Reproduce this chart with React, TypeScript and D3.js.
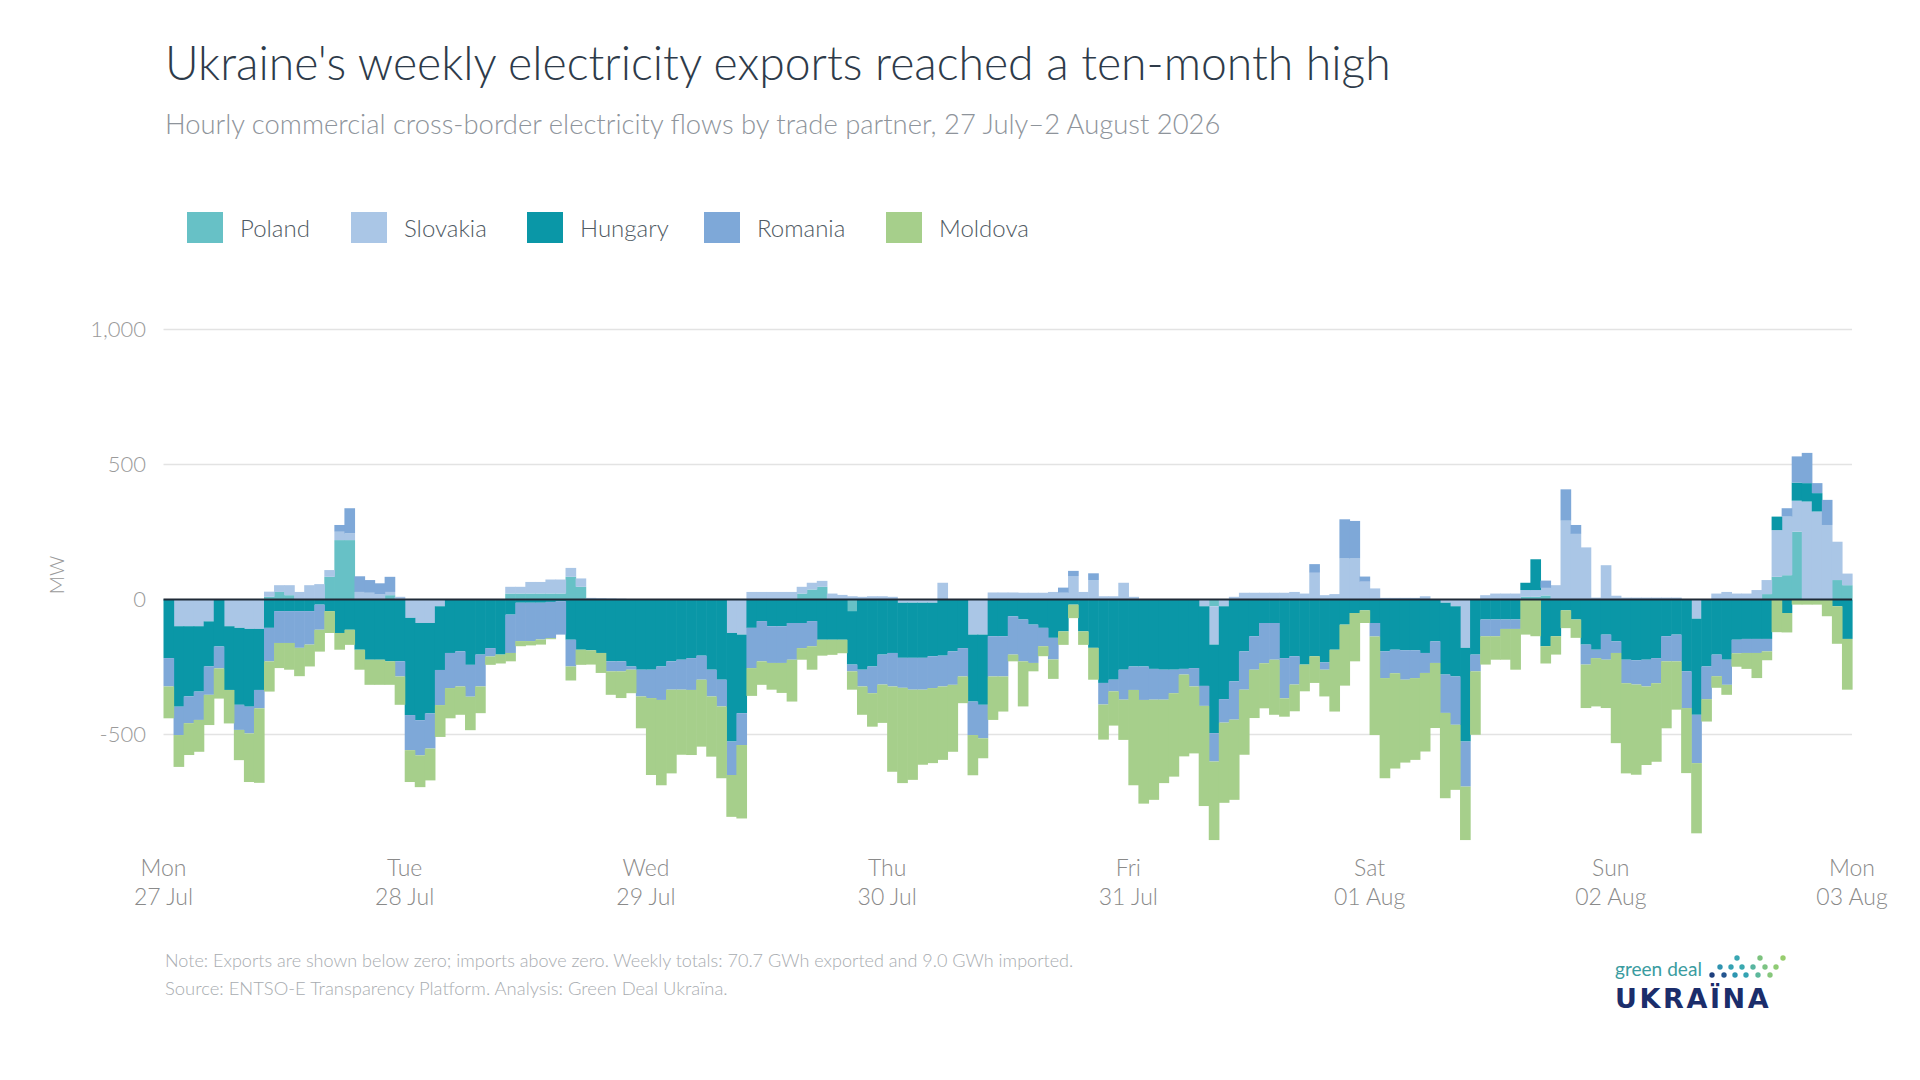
import React, { useRef, useLayoutEffect } from "react";
import * as d3 from "d3";

// ---------- DATA (MW; imports > 0, exports < 0), hourly 27 Jul 00:00 – 2 Aug 23:00 ----------
const seriesNames = ["Poland", "Slovakia", "Hungary", "Romania", "Moldova"];
const seriesColors = ["#67c1c6", "#aac6e6", "#0a97a7", "#7ea8d8", "#a6cf8b"];

const poland = [
  0, 0, 0, 0, 0, 0, 0, 0, 0, 0, 10, 28,
  16, 0, 0, 0, 84, 220, 220, 0, 0, 0, 16, 0,
  0, 0, 0, 0, 0, 0, 0, 0, 0, 0, 22, 22,
  22, 22, 22, 22, 84, 47, 0, 0, 0, 0, 0, 0,
  0, 0, 0, 0, 0, 0, 0, 0, 0, 0, 0, 0,
  0, 0, 0, 22, 37, 47, 0, 0, -43, 0, 0, 0,
  0, 0, 0, 0, 0, 0, 0, 0, 0, 0, 0, 0,
  0, 0, 0, 0, 0, 0, 0, 0, 0, 0, 0, 0,
  0, 0, 0, 0, 0, 0, 0, 0, -25, 0, 0, 0,
  0, 0, 0, 0, 0, 0, 0, 0, 0, 0, 0, 0,
  0, 0, 0, 0, 0, 0, 0, 0, 0, 0, 0, 0,
  0, 0, 0, 10, 10, 15, 0, 0, 0, 0, 0, 0,
  0, 0, 0, 0, 0, 0, 0, 0, 0, 0, 0, 0,
  0, 0, 0, 20, 84, 90, 251, 0, 0, 0, 72, 53,
];

const slovakia = [
  0, -99, -99, -99, -81, 0, -99, -105, -109, -109, 19, 25,
  37, 28, 53, 57, 25, 31, 25, 28, 25, 20, 12, 10,
  -68, -87, -87, -25, 0, 0, 0, 0, 0, 0, 25, 25,
  43, 43, 52, 52, 33, 31, 6, 5, 4, 3, 2, 0,
  0, 0, 0, 0, 0, 0, 0, 0, -124, -130, 28, 28,
  28, 28, 28, 25, 25, 22, 22, 17, 12, 10, 12, 12,
  10, -12, -12, -12, -12, 62, 0, 0, -130, -130, 26, 26,
  26, 25, 25, 25, 28, 25, 87, 28, 72, 12, 12, 62,
  10, 0, 0, 0, 0, 0, 0, -25, -142, -25, 10, 25,
  25, 25, 25, 25, 28, 22, 99, 16, 20, 152, 152, 66,
  41, 6, 6, 6, 6, 12, 0, -12, -25, -179, 0, 16,
  22, 22, 22, 25, 25, 28, 53, 292, 243, 193, 7, 127,
  14, 7, 7, 7, 7, 7, 7, 0, -71, 0, 22, 28,
  22, 22, 35, 52, 173, 217, 115, 363, 326, 276, 142, 43,
];

const hungary = [
  -217, -298, -260, -242, -167, -174, -236, -285, -288, -226, -105, -43,
  -43, -43, -43, -19, -43, -124, -112, -186, -223, -223, -229, -229,
  -360, -360, -335, -236, -198, -192, -242, -204, -180, -204, -56, -12,
  -12, -12, -9, -6, -149, -186, -188, -198, -229, -229, -248, -260,
  -260, -248, -229, -223, -217, -208, -260, -297, -402, -291, -105, -80,
  -99, -99, -87, -87, -80, -149, -149, -149, -198, -260, -248, -204,
  -198, -204, -204, -204, -198, -208, -192, -180, -248, -260, -136, -136,
  -62, -74, -93, -105, -142, -118, -19, -118, -179, -309, -297, -260,
  -248, -248, -257, -260, -260, -257, -254, -295, -328, -344, -303, -192,
  -136, -87, -87, -217, -210, -241, -210, -233, -186, -93, -50, -40,
  -87, -192, -186, -188, -188, -198, -155, -266, -260, -347, -204, -74,
  -74, -74, -74, 27, 114, -173, -136, -40, -74, -167, -186, -130,
  -155, -223, -225, -223, -217, -136, -130, -266, -356, -248, -204, -223,
  -149, -146, -146, -146, 50, -50, 67, 68, 68, 0, -25, -146,
];

const romania = [
  -105, -105, -99, -105, -105, -81, 0, -93, -99, -68, -124, -118,
  -118, -136, -124, -93, 0, 25, 93, 58, 47, 40, 56, -56,
  -130, -130, -130, -130, -130, -130, -118, -118, -31, 0, -142, -142,
  -142, -136, -134, -124, -99, 0, 0, 0, -37, -37, -12, -99,
  -105, -124, -105, -111, -118, -89, -99, -99, -124, -118, -149, -149,
  -136, -136, -136, -93, -93, 0, 0, 0, -25, -62, -99, -111,
  -124, -111, -118, -118, -118, -114, -124, -105, -124, -124, -149, -149,
  -142, -155, -142, -68, -80, 19, 19, 0, 25, -80, -43, -111,
  -87, -124, -114, -111, -87, -21, -68, -74, -105, -87, -142, -142,
  -124, -149, -136, -149, -105, 0, 32, -27, 0, 145, 139, 19,
  -50, -99, -87, -109, -103, -74, -80, -142, -179, -167, -62, -62,
  -62, -35, -35, 0, 0, 27, 0, 116, 33, -74, -31, -93,
  -43, -87, -90, -99, -93, -93, -99, -136, -179, -121, -80, -93,
  -50, -52, -52, -46, 0, 31, 97, 112, 37, 93, 0, 0,
];

const moldova = [
  -118, -118, -118, -118, -112, -112, -124, -112, -180, -276, -112, -93,
  -99, -105, -81, -81, -81, -62, -56, -74, -93, -93, -87, -105,
  -118, -118, -118, -118, -112, -105, -124, -99, -31, -33, -31, -19,
  -16, -19, -4, 0, -52, -56, -53, -74, -87, -99, -87, -118,
  -285, -316, -310, -241, -241, -248, -223, -266, -155, -272, -103, -87,
  -99, -111, -155, -43, -87, -59, -56, -50, -68, -105, -124, -142,
  -316, -353, -334, -278, -278, -272, -248, -99, -149, -74, -161, -130,
  -25, -167, -31, -37, -72, -50, -50, -50, -118, -130, -127, -149,
  -353, -384, -371, -309, -309, -303, -248, -371, -291, -297, -297, -241,
  -179, -167, -204, -68, -99, -99, -99, -99, -229, -226, -179, -47,
  -365, -371, -353, -307, -303, -291, -241, -316, -241, -198, -235, -105,
  -87, -114, -151, -130, -136, -64, -68, -66, -68, -161, -179, -179,
  -334, -334, -334, -291, -291, -248, -179, -241, -260, -83, -43, -37,
  -50, -59, -93, -33, -121, -72, -19, -19, -19, -62, -139, -188,
];

const dayNames = ["Mon", "Tue", "Wed", "Thu", "Fri", "Sat", "Sun", "Mon"];
const dayDates = ["27 Jul", "28 Jul", "29 Jul", "30 Jul", "31 Jul", "01 Aug", "02 Aug", "03 Aug"];
const yTickValues = [-500, 0, 500, 1000];

const titleText = "Ukraine's weekly electricity exports reached a ten-month high";
const subtitleText = "Hourly commercial cross-border electricity flows by trade partner, 27 July\u20132 August 2026";
const noteText = "Note: Exports are shown below zero; imports above zero. Weekly totals: 70.7 GWh exported and 9.0 GWh imported.";
const sourceText = "Source: ENTSO-E Transparency Platform. Analysis: Green Deal Ukra\u00efna.";

// ---------- LAYOUT ----------
const W = 1920;
const H = 1080;
const plotLeft = 163.5;
const plotRight = 1852;
const FONT = "Lato, 'Source Sans Pro', 'Open Sans', sans-serif";

const seriesValues = [poland, slovakia, hungary, romania, moldova];
const nHours = poland.length;
const table = d3.range(nHours).map((h) => {
  const row: Record<string, number> = { hour: h };
  seriesNames.forEach((name, i) => (row[name] = seriesValues[i][h]));
  return row;
});

const x = d3.scaleLinear().domain([0, nHours]).range([plotLeft, plotRight]);
const y = d3.scaleLinear().domain([-1000, 1000]).range([869.5, 329.5]);

const stack = d3
  .stack<Record<string, number>>()
  .keys(seriesNames)
  .offset(d3.stackOffsetDiverging)
  .order(d3.stackOrderNone);
const layers = stack(table);

function FitText(props: any) {
  const { target, size, children, ...rest } = props;
  const ref = useRef<SVGTextElement>(null);
  useLayoutEffect(() => {
    const fit = () => {
      const el = ref.current;
      if (!el) return;
      for (let i = 0; i < 4; i++) {
        const w = el.getComputedTextLength();
        if (!(w > 0) || Math.abs(w - target) < 0.5) break;
        const cur = parseFloat(el.getAttribute("font-size") || String(size));
        el.setAttribute("font-size", String((cur * target) / w));
      }
    };
    fit();
    const f: any = (document as any).fonts;
    if (f && f.ready) f.ready.then(fit);
  }, []);
  return (
    <text ref={ref} fontSize={size} {...rest}>
      {children}
    </text>
  );
}

const legendX = [187, 351, 527, 704, 886];

const logoDots: [number, number, string][] = [
  [1737, 958, "#3aa7b3"], [1760, 958, "#7cc27e"], [1783, 958, "#97cd6d"],
  [1720, 967, "#2f93b0"], [1731, 967, "#35a2b3"], [1742, 967, "#3aa9b0"],
  [1753, 967, "#58b5a0"], [1765, 967, "#7cc383"], [1776, 967, "#8fcb74"],
  [1712, 975, "#1e3f7d"], [1724, 975, "#24558f"], [1735, 975, "#2d96b1"],
  [1746, 975, "#34a3b2"], [1758, 975, "#5db89c"], [1770, 975, "#86c77b"],
];

export default function App() {
  const step = x(1) - x(0);
  return (
    <svg
      width={W}
      height={H}
      viewBox={`0 0 ${W} ${H}`}
      style={{ position: "absolute", left: 0, top: 0, background: "#fff", fontFamily: FONT }}
    >
      <rect x={0} y={0} width={W} height={H} fill="#fff" />

      {/* Title & subtitle */}
      <FitText x={165} y={80} target={1226} size={48} fill="#2e3b4a" fontWeight={300}>
        {titleText}
      </FitText>
      <FitText x={165} y={134} target={1055} size={26} fill="#8e949b" fontWeight={300}>
        {subtitleText}
      </FitText>

      {/* Legend */}
      {seriesNames.map((name, i) => (
        <g key={name}>
          <rect x={legendX[i]} y={212} width={36} height={31} fill={seriesColors[i]} />
          <text x={legendX[i] + 53} y={237} fontSize={24} fill="#505a63" fontWeight={300}>
            {name}
          </text>
        </g>
      ))}

      {/* Gridlines */}
      {yTickValues
        .filter((v) => v !== 0)
        .map((v) => (
          <line key={v} x1={plotLeft} x2={plotRight} y1={y(v)} y2={y(v)} stroke="#e3e3e3" strokeWidth={1.5} />
        ))}

      {/* Y axis labels */}
      {yTickValues.map((v) => (
        <text
          key={v}
          x={146}
          y={y(v)}
          dy="0.36em"
          textAnchor="end"
          fontSize={22}
          fill="#9a9a9a"
          fontWeight={300}
        >
          {d3.format(",")(v).replace("\u2212", "-")}
        </text>
      ))}
      <text
        transform={`translate(64, ${575}) rotate(-90)`}
        textAnchor="middle"
        fontSize={20}
        fill="#9a9a9a"
        fontWeight={300}
      >
        MW
      </text>

      {/* Bars */}
      {layers.map((layer, li) => (
        <g key={layer.key} fill={seriesColors[li]}>
          {layer.map((d, h) => {
            const y0 = y(d[0]);
            const y1 = y(d[1]);
            const hgt = Math.abs(y0 - y1);
            if (hgt < 0.01) return null;
            return <rect key={h} x={x(h)} y={Math.min(y0, y1)} width={step + 0.6} height={hgt} />;
          })}
        </g>
      ))}

      {/* Zero line */}
      <line x1={plotLeft} x2={plotRight} y1={y(0)} y2={y(0)} stroke="#1f2a36" strokeWidth={2} />

      {/* X axis labels */}
      {dayNames.map((dn, i) => (
        <g key={i} fill="#8a8a8a" fontSize={23} fontWeight={300} textAnchor="middle">
          <text x={x(i * 24)} y={876}>{dn}</text>
          <text x={x(i * 24)} y={905}>{dayDates[i]}</text>
        </g>
      ))}

      {/* Footer */}
      <FitText x={165} y={967} target={908} size={17} fill="#a8acb0" fontWeight={300}>
        {noteText}
      </FitText>
      <FitText x={165} y={995} target={563} size={17} fill="#a8acb0" fontWeight={300}>
        {sourceText}
      </FitText>

      {/* Logo */}
      <FitText x={1615} y={976} target={87} size={17} fill="#3a9ca0" fontWeight={400}>
        green deal
      </FitText>
      <text
        x={1615}
        y={1008}
        fontSize={27}
        fontWeight={700}
        letterSpacing={2.6}
        fill="#1b2d6b"
        fontFamily="'DejaVu Sans', sans-serif"
      >
        UKRA&#207;NA
      </text>
      {logoDots.map(([cx, cy, c], i) => (
        <circle key={i} cx={cx} cy={cy} r={2.7} fill={c} />
      ))}
    </svg>
  );
}
